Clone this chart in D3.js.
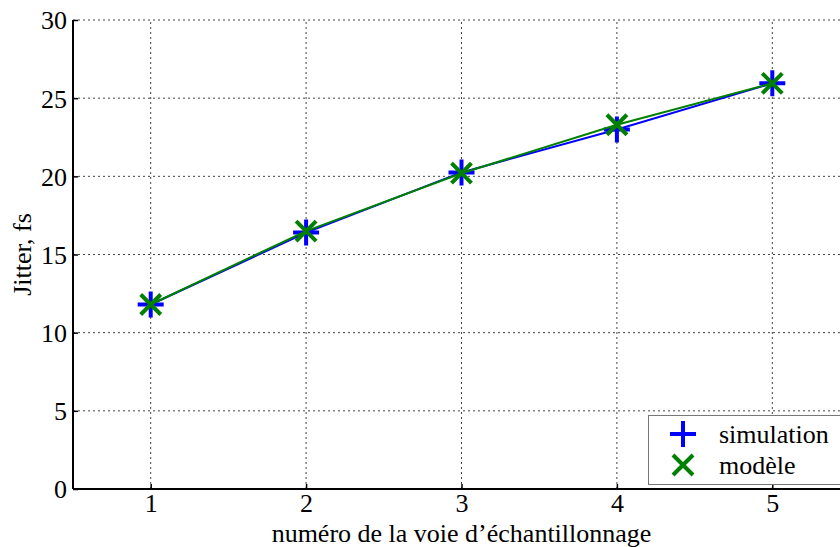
<!DOCTYPE html>
<html><head><meta charset="utf-8">
<script src="https://cdn.jsdelivr.net/npm/d3@7"></script>
<style>
html,body{margin:0;padding:0;background:#fff;}
svg{display:block;}
text{font-family:"Liberation Serif","Times New Roman",serif;fill:#000;}
</style></head>
<body>
<script>
const categories = [1, 2, 3, 4, 5];
const simulation = [11.8, 16.4, 20.25, 23.0, 25.95];
const modele = [11.8, 16.5, 20.2, 23.3, 25.95];
const yTicks = [0, 5, 10, 15, 20, 25, 30];
const seriesNames = ["simulation", "modèle"];
const xLabel = "numéro de la voie d’échantillonnage";
const yLabel = "Jitter, fs";

const W = 840, H = 547;
const svg = d3.select("body").append("svg").attr("width", W).attr("height", H);
const x = d3.scaleLinear().domain([0.5, 5.5]).range([73, 850]);
const y = d3.scaleLinear().domain([0, 30]).range([489, 20]);

const fs = 26;
// grid
const g = svg.append("g");
g.selectAll("line.gy").data(yTicks.filter(d => d > 0)).join("line")
  .attr("x1", x(0.5)).attr("x2", x(5.5)).attr("y1", d => y(d)).attr("y2", d => y(d))
  .attr("stroke", "#444").attr("stroke-width", 1).attr("stroke-dasharray", "2,3");
g.selectAll("line.gx").data(categories).join("line")
  .attr("x1", d => x(d)).attr("x2", d => x(d)).attr("y1", y(0)).attr("y2", y(30))
  .attr("stroke", "#444").attr("stroke-width", 1).attr("stroke-dasharray", "2,3");

// axes
const yAxis = d3.axisLeft(y).tickValues(yTicks).tickSize(-5).tickPadding(6).tickFormat(d3.format("d"));
const ya = svg.append("g").attr("transform", `translate(${x(0.5)},0)`).call(yAxis);
ya.select(".domain").attr("stroke", "#000").attr("stroke-width", 2).attr("d", `M0,${y(30)}V${y(0)}`);
ya.selectAll(".tick line").attr("stroke", "#000").attr("stroke-width", 1.5);
ya.selectAll(".tick text").attr("font-size", fs).attr("font-family", "Liberation Serif").attr("dy", "0.34em");

const xAxis = d3.axisBottom(x).tickValues(categories).tickSize(-5).tickPadding(5).tickFormat(d3.format("d"));
const xa = svg.append("g").attr("transform", `translate(0,${y(0)})`).call(xAxis);
xa.select(".domain").attr("stroke", "#000").attr("stroke-width", 2).attr("d", `M${x(0.5)},0H${x(5.5)}`);
xa.selectAll(".tick line").attr("stroke", "#000").attr("stroke-width", 1.5);
xa.selectAll(".tick text").attr("font-size", fs).attr("font-family", "Liberation Serif");

// labels
svg.append("text").attr("x", (x(0.5) + x(5.5)) / 2).attr("y", 542).attr("text-anchor", "middle")
  .attr("font-size", fs).text(xLabel);
svg.append("text").attr("transform", `translate(31,${(y(0) + y(30)) / 2}) rotate(-90)`)
  .attr("text-anchor", "middle").attr("font-size", fs).text(yLabel);

// series
const line = d3.line().x((d, i) => x(categories[i])).y(d => y(d));
const blue = "#0000ff", green = "#008000";
function plus(sel, cx, cy, r, col) {
  sel.append("path").attr("d", `M${cx - r},${cy}H${cx + r}M${cx},${cy - r}V${cy + r}`)
    .attr("stroke", col).attr("stroke-width", 4).attr("fill", "none");
}
function cross(sel, cx, cy, r, col) {
  sel.append("path").attr("d", `M${cx - r},${cy - r}L${cx + r},${cy + r}M${cx - r},${cy + r}L${cx + r},${cy - r}`)
    .attr("stroke", col).attr("stroke-width", 4).attr("fill", "none");
}
svg.append("path").datum(simulation).attr("d", line).attr("fill", "none").attr("stroke", blue).attr("stroke-width", 2);
const ms = svg.append("g");
simulation.forEach((v, i) => plus(ms, x(categories[i]), y(v), 13, blue));
svg.append("path").datum(modele).attr("d", line).attr("fill", "none").attr("stroke", green).attr("stroke-width", 2);
const mm = svg.append("g");
modele.forEach((v, i) => cross(mm, x(categories[i]), y(v), 10, green));

// legend
const lg = svg.append("g");
lg.append("rect").attr("x", 648.5).attr("y", 415.5).attr("width", 220).attr("height", 69)
  .attr("fill", "#fff").attr("stroke", "#777").attr("stroke-width", 1);
plus(lg, 683, 434, 13, blue);
cross(lg, 683, 465, 10, green);
lg.append("text").attr("x", 719).attr("y", 443).attr("font-size", fs).text(seriesNames[0]);
lg.append("text").attr("x", 719).attr("y", 474).attr("font-size", fs).text(seriesNames[1]);
</script>
</body></html>
